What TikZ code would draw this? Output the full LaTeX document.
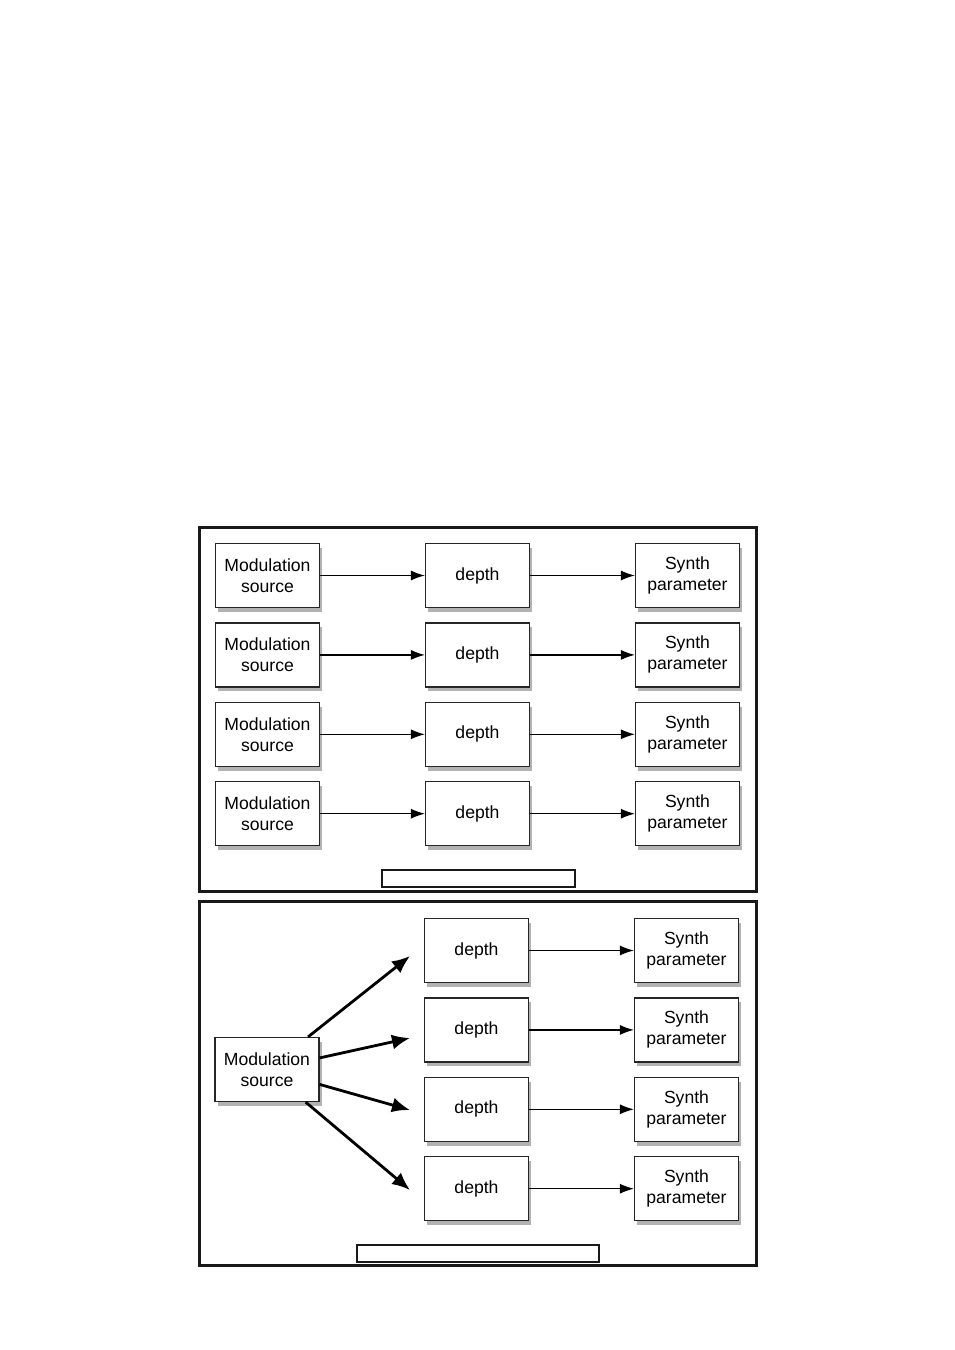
\documentclass[tikz,border=0pt]{standalone}
\usepackage{fontspec}
\setmainfont{Liberation Sans}
\usepackage{tikz}
\usetikzlibrary{arrows.meta, positioning, shadows}
\usepackage{xcolor}

\begin{document}
\begin{tikzpicture}[
  x=0.5pt, y=-0.5pt,
  >=Latex,
  box/.style={draw=black!85, line width=0.6pt, fill=white, align=center, minimum width=52pt, minimum height=32pt, inner sep=2pt, font=\fontsize{8.8}{10.5}\selectfont, drop shadow={shadow xshift=1.4pt, shadow yshift=-2.2pt, fill=black, opacity=0.3}},
  panel/.style={draw=black!90, line width=1.5pt, minimum width=278.5pt, minimum height=182pt, inner sep=0pt},
  caption/.style={draw=black!90, line width=0.75pt, fill=white, minimum height=8.5pt, inner sep=0pt},
  arrow/.style={-{Latex[length=7pt, width=5pt]}, line width=0.6pt, draw=black},
  fanarrow/.style={-{Latex[length=9pt, width=7.5pt]}, line width=1.4pt, draw=black}
]
  \useasboundingbox (0,0) rectangle (954,1350);

  % PANEL 1 ================================
  % one source per parameter
  \node[panel] (frame1) at (477.5,709) {};

  \node[box] (m1) at (267.5,575.5) {Modulation\\source};
  \node[box, below=7.1pt of m1] (m2) {Modulation\\source};
  \node[box, below=7.1pt of m2] (m3) {Modulation\\source};
  \node[box, below=7.1pt of m3] (m4) {Modulation\\source};

  \node[box, right=52.4pt of m1] (d1) {depth};
  \node[box, right=52.4pt of m2] (d2) {depth};
  \node[box, right=52.4pt of m3] (d3) {depth};
  \node[box, right=52.4pt of m4] (d4) {depth};

  \node[box, right=52.4pt of d1] (p1) {Synth\\parameter};
  \node[box, right=52.4pt of d2] (p2) {Synth\\parameter};
  \node[box, right=52.4pt of d3] (p3) {Synth\\parameter};
  \node[box, right=52.4pt of d4] (p4) {Synth\\parameter};

  \node[caption, minimum width=96.5pt] (cap1) at (478.5,878.5) {};

  \draw[arrow] (m1) -- (d1);
  \draw[arrow] (m2) -- (d2);
  \draw[arrow] (m3) -- (d3);
  \draw[arrow] (m4) -- (d4);

  \draw[arrow] (d1) -- (p1);
  \draw[arrow] (d2) -- (p2);
  \draw[arrow] (d3) -- (p3);
  \draw[arrow] (d4) -- (p4);

  % PANEL 2 ================================
  % one source fanned out to every depth
  \node[panel] (frame2) at (477.5,1083.5) {};

  \node[box] (src) at (267,1069.5) {Modulation\\source};

  \node[box] (dd1) at (476.5,950.5) {depth};
  \node[box, below=7.1pt of dd1] (dd2) {depth};
  \node[box, below=7.1pt of dd2] (dd3) {depth};
  \node[box, below=7.1pt of dd3] (dd4) {depth};

  \node[box, right=52.4pt of dd1] (pp1) {Synth\\parameter};
  \node[box, right=52.4pt of dd2] (pp2) {Synth\\parameter};
  \node[box, right=52.4pt of dd3] (pp3) {Synth\\parameter};
  \node[box, right=52.4pt of dd4] (pp4) {Synth\\parameter};

  \node[caption, minimum width=121pt] (cap2) at (478,1253.5) {};

  % free ends of the fan
  \coordinate (e1) at (410,956);
  \coordinate (e2) at (410,1038);
  \coordinate (e3) at (410,1110);
  \coordinate (e4) at (410,1190);

  \draw[fanarrow] (src) -- (e1);
  \draw[fanarrow] (src) -- (e2);
  \draw[fanarrow] (src) -- (e3);
  \draw[fanarrow] (src) -- (e4);

  \draw[arrow] (dd1) -- (pp1);
  \draw[arrow] (dd2) -- (pp2);
  \draw[arrow] (dd3) -- (pp3);
  \draw[arrow] (dd4) -- (pp4);

\end{tikzpicture}
\end{document}
